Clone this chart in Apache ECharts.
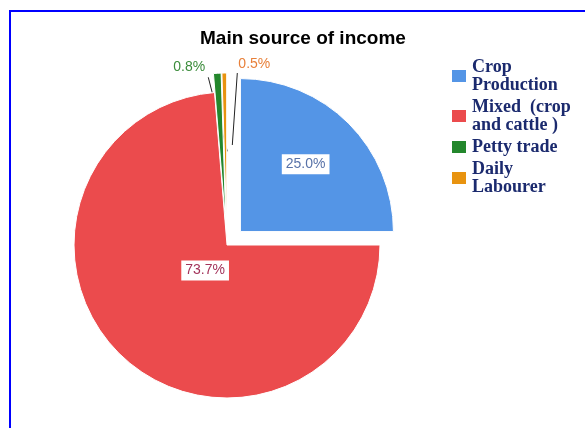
<!DOCTYPE html>
<html>
<head>
<meta charset="utf-8">
<script src="https://cdn.jsdelivr.net/npm/echarts@6/dist/echarts.min.js"></script>
<style>
html, body { margin: 0; padding: 0; background: #fff; overflow: hidden; }
#frame { position: absolute; left: 9px; top: 10px; width: 700px; height: 600px; border: 2px solid #0000ff; }
#main { position: absolute; left: 0; top: 0; width: 585px; height: 428px; }
</style>
</head>
<body>
<div id="frame"></div>
<div id="main"></div>
<script>
// Main source of income
var categories = ['Crop Production', 'Mixed  (crop and cattle )', 'Petty trade', 'Daily Labourer'];
var shares = [25.0, 73.7, 0.8, 0.5];
var legendLines = ['Crop\nProduction', 'Mixed  (crop\nand cattle )', 'Petty trade', 'Daily\nLabourer'];
var exploded = [true, false, true, true];

var colors = ['#5495e6', '#eb4b4d', '#23872c', '#e8930f'];
var labelColors = ['#5872a8', '#a3335a', '#3b8c3b', '#e8803a'];

// label nudges [dx, dy] and leader line offsets from the slice edge point
var labelNudge = [[9, -11], [32, -33], [-28, -6], [30, -9]];
var leaderLines = [null, null, [-9, 4, 10, 78], [13, 0, 8, 72]];

var myChart = echarts.init(document.getElementById('main'));

var option = {
    animation: false,
    title: {
        text: 'Main source of income',
        left: 200,
        top: 29,
        padding: 0,
        textStyle: {
            fontFamily: 'Liberation Sans',
            fontSize: 19,
            fontWeight: 'bold',
            color: '#000'
        }
    },
    legend: {
        orient: 'vertical',
        left: 450,
        top: 58,
        padding: 0,
        itemGap: 4,
        itemWidth: 16,
        itemHeight: 14,
        icon: 'rect',
        selectedMode: false,
        formatter: function (name) {
            return legendLines[categories.indexOf(name)];
        },
        textStyle: {
            fontFamily: 'Liberation Serif',
            fontWeight: 'bold',
            fontSize: 18,
            lineHeight: 18,
            color: '#1b2a6e'
        },
        data: categories
    },
    series: [{
        type: 'pie',
        center: [227, 245],
        radius: 153,
        startAngle: 90,
        clockwise: true,
        selectedMode: 'multiple',
        selectedOffset: 19,
        avoidLabelOverlap: false,
        emphasis: { disabled: true },
        itemStyle: {
            borderColor: '#fff',
            borderWidth: 1
        },
        label: {
            fontFamily: 'Liberation Sans',
            fontSize: 14,
            formatter: function (p) {
                return p.value.toFixed(1) + '%';
            }
        },
        labelLine: {
            showAbove: true,
            length: 8,
            length2: 6,
            lineStyle: { color: '#222', width: 1 }
        },
        labelLayout: function (p) {
            var n = labelNudge[p.dataIndex];
            var out = { dx: n[0], dy: n[1] };
            var l = leaderLines[p.dataIndex];
            if (l && p.labelLinePoints) {
                var a = p.labelLinePoints[0];
                var r = p.labelRect;
                out = {
                    dx: a[0] + n[0] - (r.x + r.width / 2),
                    dy: a[1] + n[1] - (r.y + r.height / 2),
                    labelLinePoints: [[a[0] + l[0], a[1] + l[1]], [a[0] + l[2], a[1] + l[3]]]
                };
            }
            return out;
        },
        data: categories.map(function (name, i) {
            var inside = shares[i] > 5;
            return {
                name: name,
                value: shares[i],
                selected: exploded[i],
                itemStyle: { color: colors[i] },
                label: inside ? {
                    position: 'inside',
                    color: labelColors[i],
                    backgroundColor: '#fff',
                    padding: [3, 4, 3, 4]
                } : {
                    position: 'outside',
                    color: labelColors[i]
                },
                labelLine: { show: !inside }
            };
        })
    }]
};

myChart.setOption(option);
</script>
</body>
</html>
